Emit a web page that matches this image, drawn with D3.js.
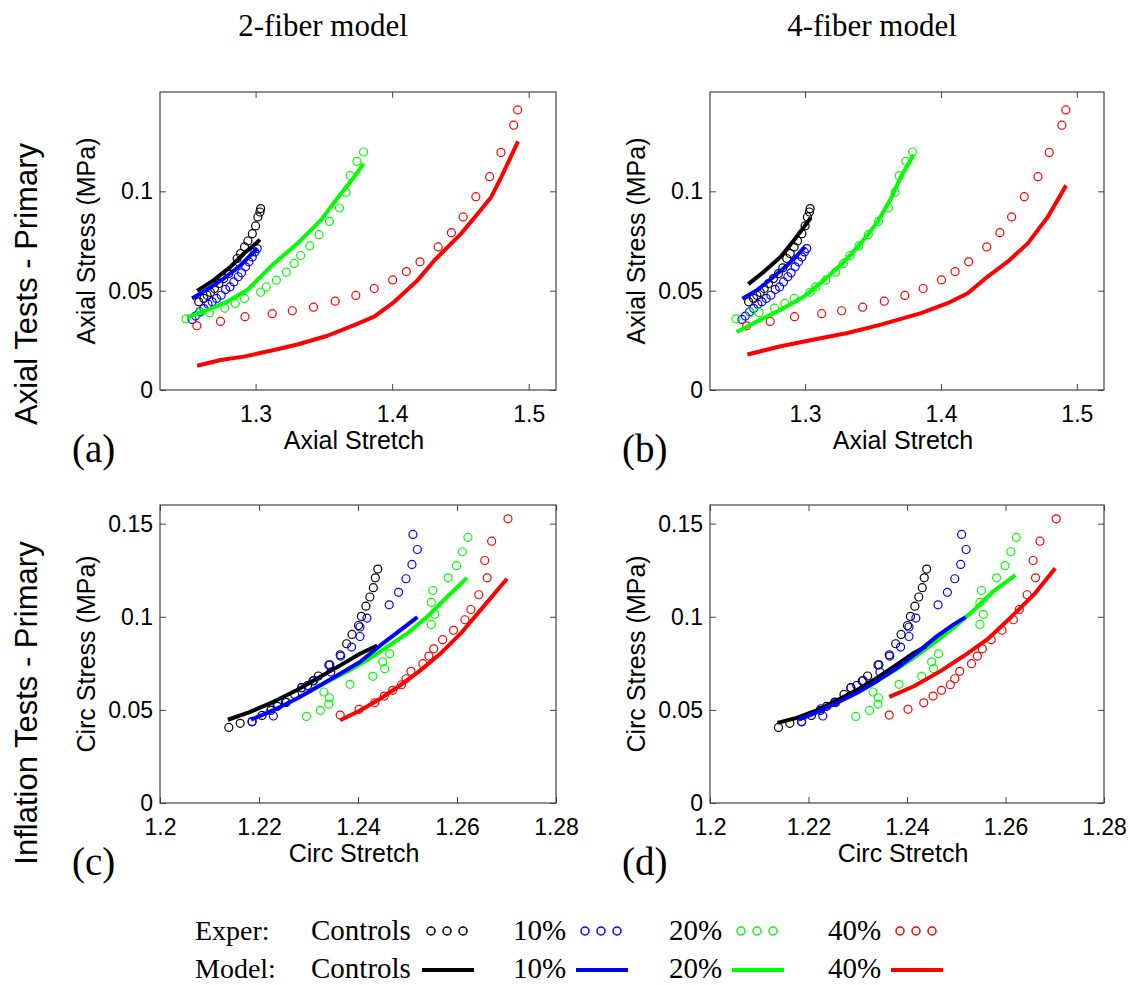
<!DOCTYPE html>
<meta charset="utf-8">
<script src="https://d3js.org/d3.v7.min.js"></script>
<style>
body { margin: 0; background: #fff; }
.axis .domain { display: none; }
.axis line { stroke: #444; }
.axis text { font-family: "Liberation Sans", Arial, sans-serif; font-size: 23px; fill: #000; }
.lab { font-family: "Liberation Sans", Arial, sans-serif; font-size: 25px; fill: #000; }
.row { font-family: "Liberation Sans", Arial, sans-serif; font-size: 31px; fill: #000; }
.serif { font-family: "Liberation Serif", "Times New Roman", serif; fill: #000; }
</style>
<body>
<div id="canvas"></div>
<script>

// ---- experimental data (same in both models) : [stretch, stress MPa]
var expAxialControls = [[1.2584,0.0444],[1.2621,0.0461],[1.2645,0.0477],[1.2670,0.0491],[1.2699,0.0511],[1.2731,0.0536],[1.2767,0.0561],[1.2804,0.0586],[1.2836,0.0615],[1.2865,0.0662],[1.2890,0.0687],[1.2919,0.0720],[1.2944,0.0750],[1.2976,0.0787],[1.3000,0.0826],[1.3017,0.0871],[1.3032,0.0896],[1.3037,0.0913]];
var expAxial10 = [[1.2535,0.0355],[1.2560,0.0372],[1.2591,0.0394],[1.2621,0.0410],[1.2652,0.0432],[1.2682,0.0444],[1.2714,0.0461],[1.2748,0.0477],[1.2780,0.0506],[1.2812,0.0519],[1.2841,0.0544],[1.2873,0.0570],[1.2897,0.0590],[1.2927,0.0620],[1.2951,0.0645],[1.2976,0.0670],[1.2995,0.0695],[1.3012,0.0712]];
var expAxial20 = [[1.2491,0.0358],[1.2596,0.0390],[1.2662,0.0389],[1.2775,0.0412],[1.2851,0.0436],[1.2919,0.0461],[1.3037,0.0492],[1.3078,0.0519],[1.3152,0.0553],[1.3225,0.0593],[1.3282,0.0637],[1.3330,0.0677],[1.3397,0.0725],[1.3465,0.0782],[1.3541,0.0849],[1.3614,0.0916],[1.3663,0.0995],[1.3693,0.1079],[1.3742,0.1151],[1.3791,0.1198]];
var expAxial40 = [[1.2570,0.0323],[1.2743,0.0345],[1.2922,0.0369],[1.3122,0.0384],[1.3269,0.0399],[1.3424,0.0417],[1.3583,0.0447],[1.3734,0.0476],[1.3869,0.0511],[1.4004,0.0554],[1.4104,0.0596],[1.4204,0.0645],[1.4337,0.0720],[1.4434,0.0792],[1.4520,0.0871],[1.4613,0.0973],[1.4714,0.1074],[1.4797,0.1196],[1.4890,0.1333],[1.4919,0.1410]];

var expCircControls = [[1.2139,0.0406],[1.2162,0.0428],[1.2186,0.0436],[1.2206,0.0470],[1.2224,0.0497],[1.2237,0.0519],[1.2255,0.0540],[1.2272,0.0583],[1.2286,0.0619],[1.2298,0.0631],[1.2309,0.0655],[1.2320,0.0682],[1.2343,0.0742],[1.2364,0.0796],[1.2377,0.0855],[1.2388,0.0905],[1.2401,0.0953],[1.2407,0.1002],[1.2416,0.1057],[1.2424,0.1106],[1.2431,0.1156],[1.2435,0.1209],[1.2440,0.1256]];
var expCirc10 = [[1.2186,0.0438],[1.2229,0.0467],[1.2225,0.0506],[1.2253,0.0542],[1.2286,0.0619],[1.2311,0.0658],[1.2341,0.0741],[1.2345,0.0703],[1.2365,0.0789],[1.2387,0.0837],[1.2404,0.0894],[1.2404,0.0945],[1.2418,0.0993],[1.2463,0.1064],[1.2482,0.1131],[1.2497,0.1204],[1.2509,0.1281],[1.2520,0.1361],[1.2511,0.1442]];
var expCirc20 = [[1.2296,0.0465],[1.2324,0.0497],[1.2341,0.0531],[1.2342,0.0565],[1.2331,0.0596],[1.2384,0.0637],[1.2430,0.0680],[1.2454,0.0721],[1.2450,0.0758],[1.2464,0.0801],[1.2548,0.0959],[1.2555,0.1013],[1.2548,0.1077],[1.2551,0.1141],[1.2582,0.1209],[1.2599,0.1274],[1.2611,0.1349],[1.2622,0.1426]];
var expCirc40 = [[1.2364,0.0472],[1.2402,0.0503],[1.2434,0.0538],[1.2453,0.0574],[1.2470,0.0605],[1.2488,0.0635],[1.2497,0.0667],[1.2507,0.0707],[1.2531,0.0748],[1.2543,0.0789],[1.2553,0.0828],[1.2571,0.0877],[1.2593,0.0927],[1.2616,0.0984],[1.2628,0.1039],[1.2644,0.1118],[1.2661,0.1209],[1.2656,0.1302],[1.2670,0.1406],[1.2703,0.1526]];

// ---- 2-fiber model curves
var m2AxialControls = [[1.2572,0.0499],[1.2694,0.0553],[1.2816,0.0620],[1.2914,0.0687],[1.2988,0.0729],[1.3032,0.0757]];
var m2Axial10 = [[1.2535,0.0461],[1.2645,0.0506],[1.2767,0.0561],[1.2890,0.0628],[1.2963,0.0678],[1.3012,0.0712]];
var m2Axial20 = [[1.2498,0.0365],[1.2645,0.0402],[1.2792,0.0444],[1.2939,0.0503],[1.3135,0.0637],[1.3306,0.0737],[1.3477,0.0854],[1.3624,0.0988],[1.3722,0.1072],[1.3791,0.1139]];
var m2Axial40 = [[1.2572,0.0122],[1.2743,0.0151],[1.2914,0.0168],[1.3135,0.0201],[1.3306,0.0229],[1.3526,0.0273],[1.3722,0.0327],[1.3869,0.0369],[1.4016,0.0444],[1.4187,0.0553],[1.4310,0.0653],[1.4505,0.0787],[1.4628,0.0888],[1.4726,0.0972],[1.4799,0.1072],[1.4922,0.1251]];

var m2CircControls = [[1.2137,0.0447],[1.2181,0.0488],[1.2228,0.0542],[1.2276,0.0605],[1.2323,0.0676],[1.2364,0.0739],[1.2404,0.0801],[1.2439,0.0846]];
var m2Circ10 = [[1.2184,0.0447],[1.2228,0.0497],[1.2276,0.0560],[1.2323,0.0631],[1.2364,0.0694],[1.2404,0.0757],[1.2445,0.0846],[1.2485,0.0927],[1.2520,0.0998]];
var m2Circ20 = [[1.2293,0.0587],[1.2336,0.0649],[1.2377,0.0703],[1.2418,0.0766],[1.2458,0.0837],[1.2499,0.0909],[1.2539,0.0998],[1.2580,0.1106],[1.2620,0.1209]];
var m2Circ40 = [[1.2364,0.0444],[1.2404,0.0497],[1.2445,0.0560],[1.2485,0.0631],[1.2526,0.0712],[1.2566,0.0801],[1.2607,0.0909],[1.2647,0.1034],[1.2701,0.1204]];

// ---- 4-fiber model curves
var m4AxialControls = [[1.2582,0.0533],[1.2698,0.0596],[1.2821,0.0671],[1.2919,0.0755],[1.2993,0.0821],[1.3042,0.0868]];
var m4Axial10 = [[1.2538,0.0459],[1.2649,0.0504],[1.2771,0.0571],[1.2870,0.0629],[1.2943,0.0679],[1.2998,0.0721]];
var m4Axial20 = [[1.2496,0.0292],[1.2649,0.0346],[1.2821,0.0404],[1.2993,0.0471],[1.3140,0.0554],[1.3287,0.0646],[1.3410,0.0738],[1.3533,0.0846],[1.3631,0.0963],[1.3705,0.1072],[1.3799,0.1185]];
var m4Axial40 = [[1.2575,0.0179],[1.2821,0.0220],[1.3066,0.0254],[1.3312,0.0287],[1.3558,0.0329],[1.3853,0.0387],[1.4049,0.0437],[1.4197,0.0487],[1.4344,0.0571],[1.4491,0.0646],[1.4639,0.0738],[1.4786,0.0871],[1.4921,0.1030]];

var m4CircControls = [[1.2137,0.0430],[1.2176,0.0457],[1.2217,0.0498],[1.2258,0.0552],[1.2298,0.0606],[1.2339,0.0672],[1.2380,0.0744],[1.2414,0.0806],[1.2439,0.0842]];
var m4Circ10 = [[1.2180,0.0448],[1.2217,0.0487],[1.2258,0.0538],[1.2298,0.0591],[1.2339,0.0654],[1.2380,0.0726],[1.2420,0.0806],[1.2461,0.0896],[1.2495,0.0959],[1.2519,0.0998]];
var m4Circ20 = [[1.2293,0.0597],[1.2332,0.0645],[1.2373,0.0708],[1.2414,0.0780],[1.2454,0.0857],[1.2495,0.0941],[1.2536,0.1036],[1.2576,0.1138],[1.2620,0.1224]];
var m4Circ40 = [[1.2364,0.0570],[1.2414,0.0627],[1.2468,0.0708],[1.2515,0.0789],[1.2563,0.0878],[1.2610,0.0995],[1.2658,0.1120],[1.2701,0.1260]];

// ticks
var axialXTicks = [1.3, 1.4, 1.5];
var axialYTicks = [0, 0.05, 0.1];
var circXTicks = [1.2, 1.22, 1.24, 1.26, 1.28];
var circYTicks = [0, 0.05, 0.1, 0.15];

var groups = ["Controls", "10%", "20%", "40%"];
var colors = ["#000000", "#0000ff", "#00ff00", "#ff0000"];

var W = 1130, H = 985;
var svg = d3.select("#canvas").append("svg")
    .attr("width", W).attr("height", H);

var fmt = d3.format("~g");

// draws one panel
function panel(o) {
    var w = o.x1 - o.x0, h = o.y1 - o.y0;
    var x = d3.scaleLinear().domain(o.xDom).range([0, w]);
    var y = d3.scaleLinear().domain(o.yDom).range([h, 0]);
    var g = svg.append("g").attr("transform", "translate(" + o.x0 + "," + o.y0 + ")");

    // axes: labels at bottom/left, mirrored inward ticks top/right
    g.append("g").attr("class", "axis").attr("transform", "translate(0," + h + ")")
        .call(d3.axisBottom(x).tickValues(o.xTicks).tickFormat(fmt).tickSizeInner(-6).tickSizeOuter(0).tickPadding(16));
    g.append("g").attr("class", "axis")
        .call(d3.axisTop(x).tickValues(o.xTicks).tickFormat("").tickSizeInner(-6).tickSizeOuter(0));
    g.append("g").attr("class", "axis")
        .call(d3.axisLeft(y).tickValues(o.yTicks).tickFormat(fmt).tickSizeInner(-6).tickSizeOuter(0).tickPadding(7));
    g.append("g").attr("class", "axis").attr("transform", "translate(" + w + ",0)")
        .call(d3.axisRight(y).tickValues(o.yTicks).tickFormat("").tickSizeInner(-6).tickSizeOuter(0));

    g.append("rect").attr("width", w).attr("height", h)
        .attr("fill", "none").attr("stroke", "#444").attr("stroke-width", 1.2);

    // experimental circles
    o.exper.forEach(function(s, i) {
        g.append("g").selectAll("circle").data(s).enter().append("circle")
            .attr("cx", function(d) { return x(d[0]); })
            .attr("cy", function(d) { return y(d[1]); })
            .attr("r", 4)
            .attr("fill", "none")
            .attr("stroke", colors[i])
            .attr("stroke-width", 1.2);
    });

    // model curves (draw order red, green, black, blue)
    var line = d3.line().x(function(d) { return x(d[0]); }).y(function(d) { return y(d[1]); });
    [3, 2, 0, 1].forEach(function(i) {
        g.append("path").datum(o.model[i])
            .attr("d", line)
            .attr("fill", "none")
            .attr("stroke", colors[i])
            .attr("stroke-width", 4)
            .attr("stroke-linejoin", "round");
    });

    // axis labels
    g.append("text").attr("class", "lab")
        .attr("x", w / 2 - 4).attr("y", h + o.xlabDy)
        .attr("text-anchor", "middle").text(o.xlab);
    g.append("text").attr("class", "lab")
        .attr("transform", "translate(-65," + (h / 2) + ") rotate(-90)")
        .attr("text-anchor", "middle").text(o.ylab);

    // panel letter
    svg.append("text").attr("class", "serif")
        .attr("x", o.x0 - 88).attr("y", o.y1 + o.letterDy)
        .style("font-size", "39px").text(o.letter);
}

var left = [160, 556], right = [710, 1104];
var top1 = [92, 390], top2 = [505, 803];

panel({ x0: left[0], x1: left[1], y0: top1[0], y1: top1[1],
    xDom: [1.23, 1.52], yDom: [0, 0.15], xTicks: axialXTicks, yTicks: axialYTicks,
    exper: [expAxialControls, expAxial10, expAxial20, expAxial40],
    model: [m2AxialControls, m2Axial10, m2Axial20, m2Axial40],
    xlab: "Axial Stretch", ylab: "Axial Stress (MPa)", xlabDy: 59, letter: "(a)", letterDy: 72 });
panel({ x0: right[0], x1: right[1], y0: top1[0], y1: top1[1],
    xDom: [1.23, 1.52], yDom: [0, 0.15], xTicks: axialXTicks, yTicks: axialYTicks,
    exper: [expAxialControls, expAxial10, expAxial20, expAxial40],
    model: [m4AxialControls, m4Axial10, m4Axial20, m4Axial40],
    xlab: "Axial Stretch", ylab: "Axial Stress (MPa)", xlabDy: 59, letter: "(b)", letterDy: 72 });
panel({ x0: left[0], x1: left[1], y0: top2[0], y1: top2[1],
    xDom: [1.2, 1.28], yDom: [0, 0.16], xTicks: circXTicks, yTicks: circYTicks,
    exper: [expCircControls, expCirc10, expCirc20, expCirc40],
    model: [m2CircControls, m2Circ10, m2Circ20, m2Circ40],
    xlab: "Circ Stretch", ylab: "Circ Stress (MPa)", xlabDy: 59, letter: "(c)", letterDy: 72 });
panel({ x0: right[0], x1: right[1], y0: top2[0], y1: top2[1],
    xDom: [1.2, 1.28], yDom: [0, 0.16], xTicks: circXTicks, yTicks: circYTicks,
    exper: [expCircControls, expCirc10, expCirc20, expCirc40],
    model: [m4CircControls, m4Circ10, m4Circ20, m4Circ40],
    xlab: "Circ Stretch", ylab: "Circ Stress (MPa)", xlabDy: 59, letter: "(d)", letterDy: 72 });

// column titles
svg.append("text").attr("class", "serif").attr("x", 323).attr("y", 36)
    .attr("text-anchor", "middle").style("font-size", "31px").text("2-fiber model");
svg.append("text").attr("class", "serif").attr("x", 872).attr("y", 36)
    .attr("text-anchor", "middle").style("font-size", "31px").text("4-fiber model");

// row titles
svg.append("text").attr("class", "row")
    .attr("transform", "translate(37,284) rotate(-90)")
    .attr("text-anchor", "middle").text("Axial Tests - Primary");
svg.append("text").attr("class", "row")
    .attr("transform", "translate(37,703) rotate(-90)")
    .attr("text-anchor", "middle").text("Inflation Tests - Primary");

// legend
var lg = svg.append("g");
var rowY = [930, 968];
var colX = [311, 513, 669, 828];
var markX = [431, 585, 741, 900];
lg.append("text").attr("class", "serif").attr("x", 195).attr("y", rowY[0] + 10)
    .style("font-size", "28px").text("Exper:");
lg.append("text").attr("class", "serif").attr("x", 195).attr("y", rowY[1] + 10)
    .style("font-size", "28px").text("Model:");
groups.forEach(function(name, i) {
    [0, 1].forEach(function(r) {
        lg.append("text").attr("class", "serif").attr("x", colX[i]).attr("y", rowY[r] + 10)
            .style("font-size", "29px").text(name);
    });
    lg.selectAll(null).data([0, 1, 2]).enter().append("circle")
        .attr("cx", function(k) { return markX[i] + k * 16; })
        .attr("cy", rowY[0] + 1)
        .attr("r", 4)
        .attr("fill", "none").attr("stroke", colors[i]).attr("stroke-width", 1.5);
    lg.append("line")
        .attr("x1", markX[i] - 9).attr("x2", markX[i] + 43)
        .attr("y1", rowY[1] + 2).attr("y2", rowY[1] + 2)
        .attr("stroke", colors[i]).attr("stroke-width", 4);
});

</script>
</body>
